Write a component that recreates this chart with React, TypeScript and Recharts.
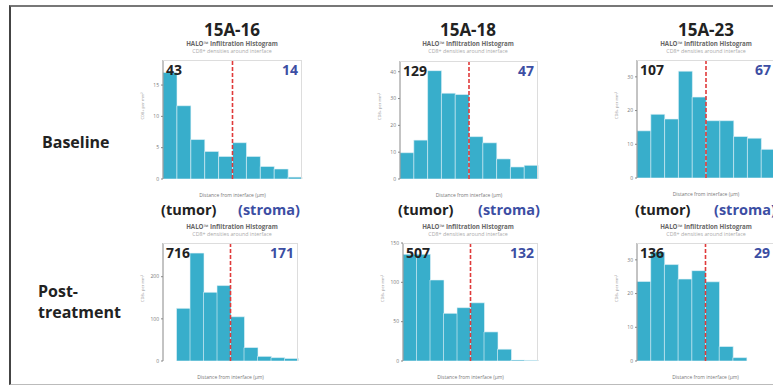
import React from 'react';
import { BarChart, Bar, XAxis, YAxis, ReferenceLine } from 'recharts';

// bin midpoints (µm), 40 µm wide bins from -200 to 200
const binMids = [-180, -140, -100, -60, -20, 20, 60, 100, 140, 180];
const xTicks = [-200, -180, -160, -140, -120, -100, -80, -60, -40, -20, 0, 20, 40, 60, 80, 100, 120, 140, 160, 180, 200];

const base16 = [17, 11.7, 6.3, 4.4, 3.6, 5.8, 3.6, 2.0, 1.6, 0.3];
const base18 = [9.8, 14.5, 40.4, 32, 31.5, 15.8, 13.5, 7.5, 4.5, 5.1];
const base23 = [14, 18.9, 17.5, 31.7, 24, 17, 17, 12.3, 11.8, 8.5];
const post16 = [0, 125, 256, 163, 179, 105, 32, 11, 8, 6];
const post18 = [135.6, 135.6, 103, 60.6, 67.8, 74, 37, 15, 1.3, 0.8];
const post23 = [23.6, 32.3, 28.6, 24.3, 26.8, 23.5, 4.3, 1, 0, 0];

const sampleNames = ['15A-16', '15A-18', '15A-23'];
const tumorCounts = ['43', '129', '107', '716', '507', '136'];
const stromaCounts = ['14', '47', '67', '171', '132', '29'];

const FONT = '"Open Sans", "DejaVu Sans", sans-serif';
const BLUE = '#3c4ea3';
const BAR = '#38aecb';

const YL = 24; // y axis + label room left of plot
const TOP = 2;

interface PanelProps {
  left: number;
  top: number;
  w: number;
  h: number;
  values: number[];
  yTicks: number[];
  yMax: number;
  tumor: string;
  stroma: string;
}

const Panel: React.FC<PanelProps> = ({ left, top, w, h, values, yTicks, yMax, tumor, stroma }) => {
  const data = binMids.map((m, i) => ({ bin: String(m), mid: m, v: values[i] }));
  return (
    <>
      <div style={{ position: 'absolute', left: left - YL, top: top - TOP }}>
        <BarChart
          width={w + YL + 6}
          height={h + TOP + 12}
          data={data}
          barCategoryGap={0}
          margin={{ top: TOP, right: 6, left: 10, bottom: 0 }}
        >
          <XAxis xAxisId="c" dataKey="bin" hide />
          <XAxis
            xAxisId="n"
            type="number"
            dataKey="mid"
            domain={[-200, 200]}
            ticks={xTicks}
            interval={0}
            height={12}
            tickSize={2}
            stroke="#888"
            tick={{ fontSize: 5, fill: '#777' }}
            tickFormatter={(t: number) => (t % 100 === 0 ? String(t) : '')}
          />
          <YAxis
            domain={[0, yMax]}
            ticks={yTicks}
            width={14}
            tickSize={2}
            stroke="#888"
            tick={{ fontSize: 5, fill: '#777' }}
            allowDataOverflow
            label={{ value: 'CD8+ per mm²', angle: -90, position: 'insideLeft', offset: -6, style: { fontSize: 4, fill: '#999' } }}
          />
          <Bar xAxisId="c" dataKey="v" fill={BAR} stroke="#e6f4f8" strokeWidth={0.6} isAnimationActive={false} />
          <ReferenceLine xAxisId="n" x={0} stroke="#e03a3a" strokeWidth={1.6} strokeDasharray="4 2" />
        </BarChart>
      </div>
      <div
        style={{
          position: 'absolute',
          left,
          top,
          width: w,
          height: h,
          borderTop: '1px solid #ddd',
          borderRight: '1px solid #ddd',
          boxSizing: 'border-box',
          pointerEvents: 'none',
        }}
      />
      <div style={{ position: 'absolute', left: left + 3, top: top + 2, fontSize: 14, fontWeight: 700, color: '#222', lineHeight: '16px' }}>
        {tumor}
      </div>
      <div style={{ position: 'absolute', left: left + w - 80, width: 76, textAlign: 'right', top: top + 2, fontSize: 14, fontWeight: 700, color: BLUE, lineHeight: '16px' }}>
        {stroma}
      </div>
      <div style={{ position: 'absolute', left, width: w, textAlign: 'center', top: top + h + 13, fontSize: 5, color: '#777', lineHeight: '6px' }}>
        Distance from interface (µm)
      </div>
    </>
  );
};

const Header: React.FC<{ cx: number; top: number; text?: string }> = ({ cx, top, text }) => (
  <>
    {text ? (
      <div style={{ position: 'absolute', left: cx - 60, width: 120, textAlign: 'center', top: top - 20, fontSize: 17, fontWeight: 700, color: '#222', lineHeight: '20px' }}>
        {text}
      </div>
    ) : null}
    <div style={{ position: 'absolute', left: cx - 60, width: 120, textAlign: 'center', top, fontSize: 6.2, fontWeight: 700, color: '#666', lineHeight: '8px' }}>
      HALO™ Infiltration Histogram
    </div>
    <div style={{ position: 'absolute', left: cx - 60, width: 120, textAlign: 'center', top: top + 8, fontSize: 5.3, color: '#aaa', lineHeight: '7px' }}>
      CD8+ densities around interface
    </div>
  </>
);

const TumorStroma: React.FC<{ tx: number; sx: number; top: number }> = ({ tx, sx, top }) => (
  <>
    <div style={{ position: 'absolute', left: tx, top, fontSize: 14.5, fontWeight: 700, lineHeight: '20px', color: '#222', whiteSpace: 'nowrap' }}>
      (tumor)
    </div>
    <div style={{ position: 'absolute', left: sx, top, fontSize: 14.5, fontWeight: 700, lineHeight: '20px', color: BLUE, whiteSpace: 'nowrap' }}>
      (stroma)
    </div>
  </>
);

const App: React.FC = () => {
  const centers = [232, 468, 706];
  return (
    <div style={{ position: 'fixed', left: 0, top: 0, width: 773, height: 385, overflow: 'hidden', background: '#fff', fontFamily: FONT }}>
      <div
        style={{
          position: 'absolute',
          left: 9,
          top: 5,
          width: 820,
          height: 377,
          borderTop: '2px solid #777',
          borderLeft: '2px solid #444',
          borderBottom: '1px solid #bbb',
        }}
      />
      <div style={{ position: 'absolute', left: 42, top: 132, fontSize: 16, fontWeight: 700, color: '#222', lineHeight: '20px' }}>Baseline</div>
      <div style={{ position: 'absolute', left: 38, top: 281, fontSize: 16, fontWeight: 700, color: '#222', lineHeight: '21px' }}>
        Post-
        <br />
        treatment
      </div>

      {sampleNames.map((n, i) => (
        <Header key={n} cx={centers[i]} top={40} text={n} />
      ))}
      {sampleNames.map((n, i) => (
        <Header key={n + 'p'} cx={centers[i]} top={223} />
      ))}
      <TumorStroma tx={161} sx={238} top={200} />
      <TumorStroma tx={398} sx={478} top={200} />
      <TumorStroma tx={635} sx={714} top={200} />

      <Panel left={163} top={60} w={139} h={119} values={base16} yTicks={[0, 5, 10, 15]} yMax={19} tumor={tumorCounts[0]} stroma={stromaCounts[0]} />
      <Panel left={400} top={61} w={138} h={118} values={base18} yTicks={[0, 10, 20, 30, 40]} yMax={44} tumor={tumorCounts[1]} stroma={stromaCounts[1]} />
      <Panel left={637} top={60} w={138} h={118} values={base23} yTicks={[0, 10, 20, 30]} yMax={35} tumor={tumorCounts[2]} stroma={stromaCounts[2]} />
      <Panel left={163} top={243} w={135} h={118} values={post16} yTicks={[0, 100, 200]} yMax={280} tumor={tumorCounts[3]} stroma={stromaCounts[3]} />
      <Panel left={403} top={243} w={135} h={118} values={post18} yTicks={[0, 50, 100, 150]} yMax={150} tumor={tumorCounts[4]} stroma={stromaCounts[4]} />
      <Panel left={637} top={243} w={137} h={118} values={post23} yTicks={[0, 10, 20, 30]} yMax={35} tumor={tumorCounts[5]} stroma={stromaCounts[5]} />
    </div>
  );
};

export default App;
